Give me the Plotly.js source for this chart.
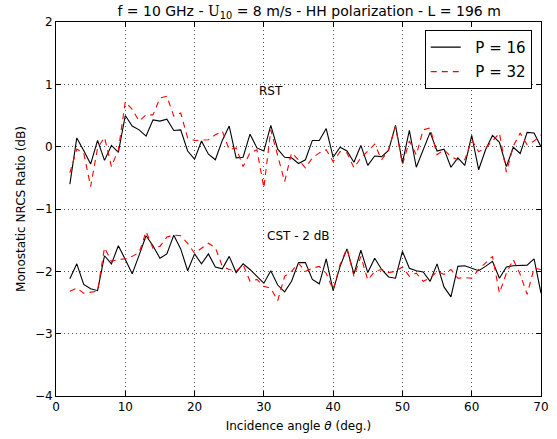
<!DOCTYPE html>
<html>
<head>
<meta charset="utf-8">
<script src="https://cdn.plot.ly/plotly-3.0.1.min.js"></script>
<style>html,body{margin:0;padding:0;background:#fff;}#chart{width:557px;height:439px;}</style>
</head>
<body>
<div id="chart"></div>
<script>
// Incidence angles (deg.)
const angles = [2,3,4,5,6,7,8,9,10,11,12,13,14,15,16,17,18,19,20,21,22,23,24,25,26,27,28,29,30,31,32,33,34,35,36,37,38,39,40,41,42,43,44,45,46,47,48,49,50,51,52,53,54,55,56,57,58,59,60,61,62,63,64,65,66,67,68,69,70];

// RST, P = 16
const rstP16 = [-0.60,0.14,-0.06,-0.28,0.10,-0.22,0.02,-0.09,0.50,0.33,0.27,0.17,0.43,0.41,0.44,0.26,0.27,-0.07,-0.20,0.09,-0.12,-0.21,0.10,0.33,-0.18,-0.17,0.20,-0.02,-0.07,0.34,-0.04,-0.17,-0.18,-0.27,-0.21,0.10,0.10,0.29,-0.17,-0.01,-0.07,-0.25,0.02,-0.30,-0.15,-0.16,-0.06,0.34,-0.26,0.26,-0.33,-0.05,0.23,-0.07,-0.04,-0.33,-0.18,-0.30,0.18,-0.37,-0.05,0.18,0.07,-0.32,-0.01,-0.11,0.23,0.22,0.00];
// RST, P = 32
const rstP32 = [-0.42,-0.04,-0.10,-0.64,-0.02,0.15,-0.32,-0.05,0.72,0.60,0.41,0.51,0.51,0.78,0.81,0.49,0.54,0.14,0.10,0.10,0.11,0.19,0.25,-0.05,-0.02,-0.32,-0.10,-0.05,-0.66,0.27,-0.13,-0.56,-0.10,-0.21,-0.34,-0.18,-0.10,-0.05,-0.24,-0.08,-0.10,-0.34,-0.18,-0.07,0.04,-0.21,-0.05,0.33,-0.29,0.09,-0.13,0.27,0.30,-0.13,-0.05,-0.16,-0.21,-0.21,0.11,-0.08,-0.02,0.09,0.22,-0.41,0.01,0.22,0.03,0.09,0.19];
// CST - 2 dB, P = 16
const cstP16 = [-2.12,-1.88,-2.21,-2.28,-2.31,-1.75,-1.88,-1.59,-1.81,-2.04,-1.74,-1.43,-1.59,-1.79,-1.72,-1.42,-1.64,-1.99,-1.72,-1.88,-1.72,-1.93,-1.96,-1.76,-2.02,-1.88,-1.97,-2.08,-2.19,-1.99,-2.22,-2.33,-2.16,-1.86,-1.86,-2.13,-2.20,-1.80,-2.31,-1.92,-1.64,-2.04,-1.66,-2.02,-1.79,-1.97,-2.09,-2.11,-1.68,-1.95,-1.99,-2.01,-2.16,-1.88,-2.25,-2.41,-1.92,-1.91,-1.95,-1.99,-1.92,-1.84,-2.11,-1.93,-1.91,-1.91,-1.90,-1.80,-2.35];
// CST - 2 dB, P = 32
const cstP32 = [-2.32,-2.27,-2.35,-2.33,-2.32,-1.62,-1.84,-1.81,-1.80,-1.76,-1.70,-1.36,-1.63,-1.60,-1.45,-1.42,-1.43,-1.55,-1.71,-1.63,-1.55,-1.62,-1.92,-1.97,-2.00,-1.89,-2.16,-2.13,-2.24,-2.27,-2.47,-2.08,-2.00,-1.87,-2.00,-1.95,-1.92,-2.03,-2.30,-1.89,-1.63,-2.08,-1.76,-2.14,-2.00,-1.97,-2.02,-2.00,-1.93,-2.08,-2.03,-2.16,-2.11,-2.00,-2.05,-1.97,-2.11,-2.10,-2.11,-1.97,-1.87,-1.76,-2.35,-2.03,-1.81,-2.05,-2.37,-1.95,-1.97];

const seriesNames = ['P = 16', 'P = 32'];
const xTicks = [0,10,20,30,40,50,60,70];
const yTicks = [-4,-3,-2,-1,0,1,2];

const FONT = 'DejaVu Sans';
const solid = {color:'#000000', width:1.1};
const dashed = {color:'#ff0000', width:1.1, dash:'6px,5px'};
const pad = '\u00a0\u00a0';

const traces = [
  {x:angles, y:rstP16, mode:'lines', line:solid, name:pad + seriesNames[0], legendgroup:'a'},
  {x:angles, y:rstP32, mode:'lines', line:dashed, name:pad + seriesNames[1], legendgroup:'b'},
  {x:angles, y:cstP16, mode:'lines', line:solid, name:pad + seriesNames[0], legendgroup:'a', showlegend:false},
  {x:angles, y:cstP32, mode:'lines', line:dashed, name:pad + seriesNames[1], legendgroup:'b', showlegend:false}
];

const axisCommon = {
  showline:true, linecolor:'#000', linewidth:1, mirror:'allticks',
  ticks:'inside', ticklen:5, tickcolor:'#000', tickwidth:1,
  showgrid:true, gridcolor:'#555', griddash:'1px,3px', gridwidth:1,
  zeroline:false, tickfont:{family:FONT, size:12, color:'#000'}
};

const layout = {
  width:557, height:439,
  margin:{l:56, r:16, t:22, b:43},
  paper_bgcolor:'#fff', plot_bgcolor:'#fff',
  font:{family:FONT, color:'#000'},
  showlegend:true,
  title:{text:"f = 10 GHz - <span style='font-family:DejaVu Serif'>U</span><sub>10</sub> = 8 m/s - HH polarization - L = 196 m",
         font:{family:FONT, size:14, color:'#000'}, x:0.555, xanchor:'center', y:0.985, yanchor:'top'},
  xaxis:Object.assign({}, axisCommon, {range:[0,70], tickvals:xTicks,
    title:{text:"Incidence angle <i>θ</i> (deg.)", font:{family:FONT, size:12, color:'#000'}, standoff:8}}),
  yaxis:Object.assign({}, axisCommon, {range:[-4,2], tickvals:yTicks,
    title:{text:"Monostatic NRCS Ratio (dB)", font:{family:FONT, size:12, color:'#000'}, standoff:6}}),
  legend:{x:0.981, xanchor:'right', y:0.979, yanchor:'top', bgcolor:'#fff',
    bordercolor:'#000', borderwidth:1, font:{family:FONT, size:15, color:'#000'},
    itemwidth:30, tracegroupgap:2},
  annotations:[
    {x:31, y:0.9, xref:'x', yref:'y', text:'RST', showarrow:false, font:{family:FONT, size:12, color:'#000'}},
    {x:35, y:-1.43, xref:'x', yref:'y', text:'CST - 2 dB', showarrow:false, font:{family:FONT, size:12, color:'#000'}}
  ]
};

Plotly.newPlot('chart', traces, layout, {displayModeBar:false, staticPlot:true});
</script>
</body>
</html>
